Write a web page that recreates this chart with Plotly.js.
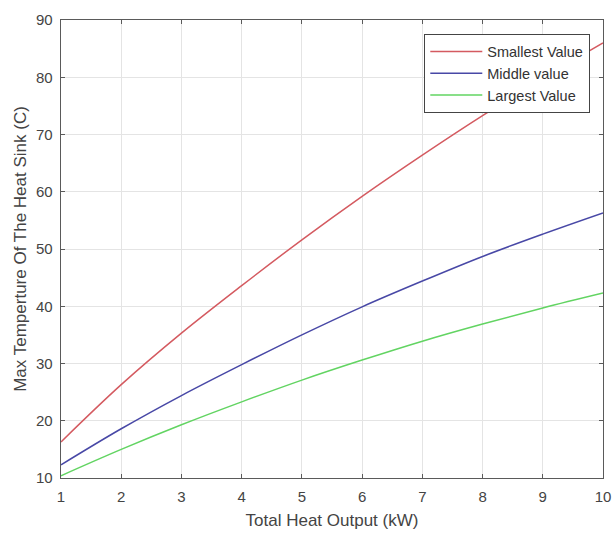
<!DOCTYPE html>
<html>
<head>
<meta charset="utf-8">
<script src="https://cdn.plot.ly/plotly-3.0.1.min.js"></script>
<style>html,body{margin:0;padding:0;background:#fff;}#chart{width:612px;height:533px;}</style>
</head>
<body>
<div id="chart"></div>
<script>
var heatOutput = [1, 2, 3, 4, 5, 6, 7, 8, 9, 10];
var smallestValue = [16.3, 26.3, 35.3, 43.6, 51.6, 59.2, 66.4, 73.3, 79.8, 86.0];
var middleValue   = [12.3, 18.6, 24.4, 29.8, 35.0, 39.9, 44.4, 48.7, 52.6, 56.3];
var largestValue  = [10.4, 15.0, 19.3, 23.3, 27.1, 30.6, 33.9, 36.9, 39.7, 42.3];
var seriesNames = ["Smallest Value", "Middle value", "Largest Value"];
var xTicks = [1, 2, 3, 4, 5, 6, 7, 8, 9, 10];
var yTicks = [10, 20, 30, 40, 50, 60, 70, 80, 90];

var colors = ["#d45a60", "#4848a6", "#62d462"];
var ys = [smallestValue, middleValue, largestValue];
var traces = ys.map(function (y, i) {
  return {
    x: heatOutput, y: y, name: seriesNames[i], type: "scatter", mode: "lines",
    line: {color: colors[i], width: 1.5, shape: "spline", smoothing: 1}
  };
});

var axisCommon = {
  showline: true, mirror: "ticks", linecolor: "#5a5a5a", linewidth: 1.3,
  ticks: "inside", ticklen: 4, tickcolor: "#5a5a5a",
  showgrid: true, gridcolor: "#e4e4e4", gridwidth: 1, zeroline: false,
  tickfont: {size: 15, color: "#444"}
};

var layout = {
  width: 612, height: 533,
  margin: {l: 61, r: 9, t: 20, b: 55},
  paper_bgcolor: "#fff", plot_bgcolor: "#fff",
  font: {family: "Liberation Sans, Arial, sans-serif", color: "#444"},
  showlegend: true,
  legend: {
    x: 0.976, xanchor: "right", y: 0.969, yanchor: "top",
    bgcolor: "#fff", bordercolor: "#444", borderwidth: 1.3,
    font: {size: 14.5, color: "#333"}, tracegroupgap: 0, itemwidth: 52
  },
  xaxis: Object.assign({}, axisCommon, {
    range: [1, 10], tickvals: xTicks, ticklabelstandoff: 5,
    title: {text: "Total Heat Output (kW)", font: {size: 17, color: "#444"}, standoff: 9}
  }),
  yaxis: Object.assign({}, axisCommon, {
    range: [10, 90], tickvals: yTicks, ticklabelstandoff: 4,
    title: {text: "Max Temperture Of The Heat Sink (C)", font: {size: 17, color: "#444"}, standoff: 5}
  })
};

Plotly.newPlot("chart", traces, layout, {displayModeBar: false, staticPlot: true});
</script>
</body>
</html>
